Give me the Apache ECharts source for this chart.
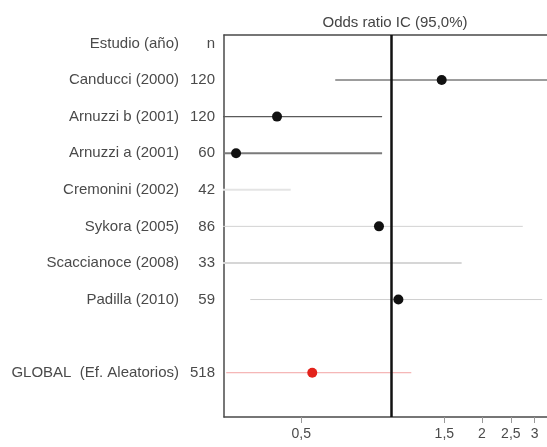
<!DOCTYPE html>
<html>
<head>
<meta charset="utf-8">
<script src="https://cdn.jsdelivr.net/npm/echarts@6/dist/echarts.min.js"></script>
<style>
  html, body { margin: 0; padding: 0; background: #fff; }
  #chart { width: 547px; height: 447px; }
</style>
</head>
<body>
<div id="chart"></div>
<script>
// rows from top: 0 = header, 1..7 studies, 8 empty, 9 global
const studies = ["Canducci (2000)", "Arnuzzi b (2001)", "Arnuzzi a (2001)", "Cremonini (2002)",
  "Sykora (2005)", "Scaccianoce (2008)", "Padilla (2010)", "GLOBAL  (Ef. Aleatorios)"];
const sizes = [120, 120, 60, 42, 86, 33, 59, 518];
const rows = [1, 2, 3, 4, 5, 6, 7, 9];
const oddsRatio = [1.47, 0.415, 0.303, null, 0.908, null, 1.054, 0.544];
const ciLow = [0.649, 0.2, 0.2, 0.2, 0.2, 0.2, 0.338, 0.281];
const ciHigh = [4.0, 0.93, 0.93, 0.461, 2.74, 1.713, 3.18, 1.164];
const lineColors = ["#3a3a3a", "#5a5a5a", "#7a7a7a", "#e4e4e4", "#d2d2d2", "#d6d6d6", "#cfcfcf", "#f2a3a3"];
const lineWidths = [1, 1.3, 2, 2, 1, 2, 1, 1];
const xTicks = [0.5, 1.5, 2, 2.5, 3];

const xMin = 0.2762, xMax = 3.30;
const frame = { color: "#4a4a4a", width: 1.5 };

let chart = echarts.init(document.getElementById("chart"), null, { renderer: "canvas" });

let labelFor = {0: "{a|Estudio (año)}{b|n}"};
for (let i = 0; i < studies.length; i++) {
  labelFor[rows[i]] = "{a|" + studies[i] + "}{b|" + sizes[i] + "}";
}

let series = [];
for (let i = 0; i < studies.length; i++) {
  series.push({
    type: "line",
    data: [[ciLow[i], rows[i]], [ciHigh[i], rows[i]]],
    symbol: "none",
    silent: true,
    lineStyle: { color: lineColors[i], width: lineWidths[i] },
    z: 2
  });
}

let pts = [], globalPt = [];
for (let i = 0; i < studies.length - 1; i++) {
  if (oddsRatio[i] !== null) pts.push([oddsRatio[i], rows[i]]);
}
globalPt.push([oddsRatio[7], rows[7]]);

series.push({
  type: "scatter",
  data: pts,
  symbolSize: 10,
  itemStyle: { color: "#111", opacity: 1 },
  z: 5,
  markLine: {
    silent: true,
    symbol: "none",
    label: { show: false },
    lineStyle: { color: "#111", width: 2.5, type: "solid" },
    data: [{ xAxis: 1 }]
  }
});
series.push({
  type: "scatter",
  data: globalPt,
  symbolSize: 10,
  itemStyle: { color: "#e3221b", opacity: 1 },
  z: 5
});

let option = {
  animation: false,
  title: {
    text: "Odds ratio IC (95,0%)",
    left: 390,
    top: 10,
    textAlign: "center",
    textStyle: { fontFamily: "Liberation Sans", fontSize: 15, fontWeight: "normal", color: "#444" }
  },
  grid: {
    left: 224,
    right: 0,
    top: 35,
    bottom: 30
  },
  xAxis: [
    {
      type: "log",
      position: "bottom",
      min: xMin,
      max: xMax,
      axisLine: { show: true, onZero: false, lineStyle: frame },
      splitLine: { show: false },
      axisTick: {
        show: true,
        customValues: xTicks,
        length: 6,
        lineStyle: { color: "#999" }
      },
      axisLabel: {
        customValues: xTicks,
        margin: 10,
        fontFamily: "Liberation Sans",
        fontSize: 14,
        color: "#4a4a4a",
        formatter: (v) => String(+v.toFixed(2)).replace(".", ",")
      }
    },
    {
      type: "log",
      position: "top",
      min: xMin,
      max: xMax,
      axisLine: { show: true, onZero: false, lineStyle: frame },
      axisTick: { show: false },
      axisLabel: { show: false },
      splitLine: { show: false }
    }
  ],
  yAxis: {
    type: "value",
    inverse: true,
    min: -0.23,
    max: 10.21,
    axisLine: { show: true, onZero: false, lineStyle: frame },
    axisTick: { show: false },
    splitLine: { show: false },
    axisLabel: {
      customValues: [0, 1, 2, 3, 4, 5, 6, 7, 9],
      margin: 9,
      color: "#4a4a4a",
      formatter: (v) => labelFor[Math.round(v)] || "",
      rich: {
        a: { fontFamily: "Liberation Sans", fontSize: 15, color: "#4a4a4a" },
        b: { fontFamily: "Liberation Sans", fontSize: 15, color: "#4a4a4a", width: 36, align: "right" }
      }
    }
  },
  series: series
};

chart.setOption(option);
window.addEventListener("resize", chart.resize);
</script>
</body>
</html>
